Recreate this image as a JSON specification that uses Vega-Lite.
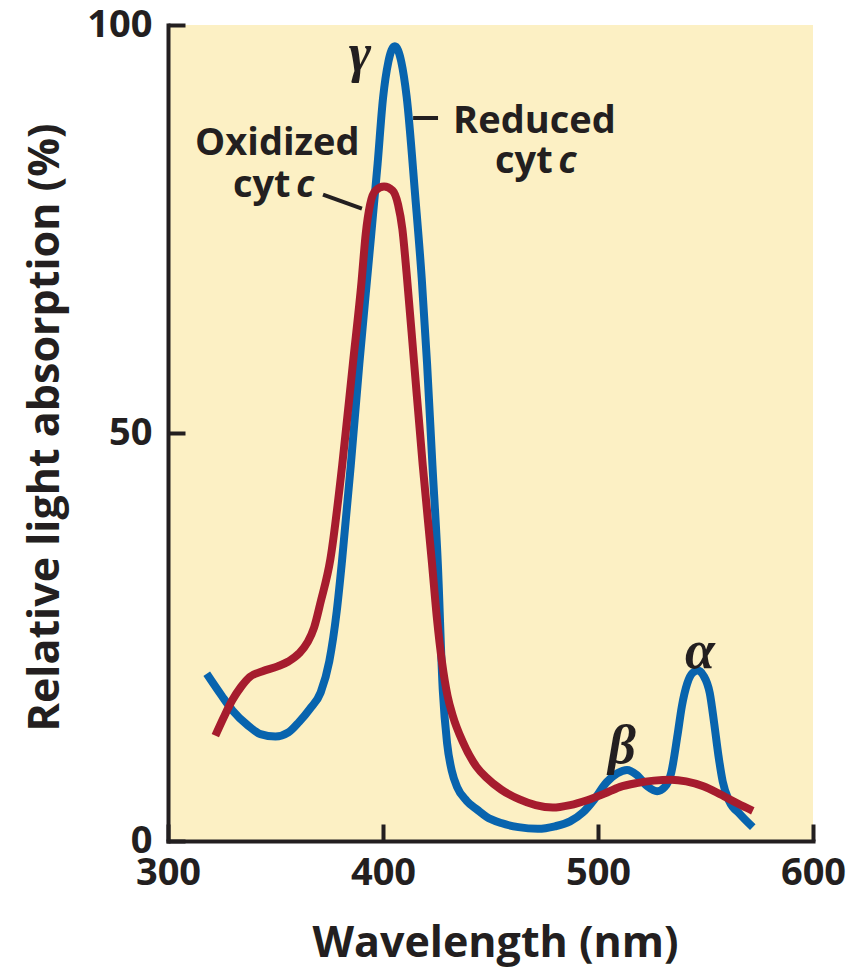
{
  "$schema": "https://vega.github.io/schema/vega-lite/v6.json",
  "autosize": {"type": "none"},
  "width": 645,
  "height": 816,
  "padding": {"left": 168, "top": 25, "right": 37, "bottom": 126},
  "background": "#ffffff",
  "config": {
    "view": {"fill": "#FCF0C4", "stroke": null},
    "font": "Open Sans",
    "axis": {
      "domainColor": "#231F20", "domainWidth": 4, "domainCap": "square",
      "tickColor": "#231F20", "tickWidth": 4, "tickSize": -17,
      "labelFont": "Open Sans", "labelFontWeight": "bold", "labelFontSize": 38, "labelColor": "#231F20",
      "labelFlush": false, "labelOverlap": false,
      "titleFont": "Open Sans", "titleFontWeight": "bold", "titleFontSize": 43, "titleColor": "#231F20",
      "grid": false
    }
  },
  "datasets": {
    "reduced": [
      {"wavelength": 318, "absorption": 20.5},
      {"wavelength": 325, "absorption": 17.8},
      {"wavelength": 330, "absorption": 16.0},
      {"wavelength": 337, "absorption": 14.2},
      {"wavelength": 343, "absorption": 13.1},
      {"wavelength": 350, "absorption": 12.8},
      {"wavelength": 356, "absorption": 13.3},
      {"wavelength": 361, "absorption": 14.6},
      {"wavelength": 366, "absorption": 16.2},
      {"wavelength": 371, "absorption": 18.2},
      {"wavelength": 375, "absorption": 22.0},
      {"wavelength": 378.5, "absorption": 28.2},
      {"wavelength": 381, "absorption": 34.5},
      {"wavelength": 385, "absorption": 46},
      {"wavelength": 389, "absorption": 58.5},
      {"wavelength": 393, "absorption": 70},
      {"wavelength": 397.5, "absorption": 83},
      {"wavelength": 400, "absorption": 91},
      {"wavelength": 402.5, "absorption": 95.5},
      {"wavelength": 405.5, "absorption": 97.4},
      {"wavelength": 408.5, "absorption": 95.5},
      {"wavelength": 411, "absorption": 91.2},
      {"wavelength": 415, "absorption": 79.0},
      {"wavelength": 418, "absorption": 69},
      {"wavelength": 420.5, "absorption": 58.5},
      {"wavelength": 423, "absorption": 46},
      {"wavelength": 425.5, "absorption": 34},
      {"wavelength": 427.8, "absorption": 18.5},
      {"wavelength": 429.8, "absorption": 12.0},
      {"wavelength": 432, "absorption": 8.6},
      {"wavelength": 434.5, "absorption": 6.6},
      {"wavelength": 439, "absorption": 4.9},
      {"wavelength": 444, "absorption": 3.8},
      {"wavelength": 448, "absorption": 3.0},
      {"wavelength": 455, "absorption": 2.2},
      {"wavelength": 463, "absorption": 1.7},
      {"wavelength": 472, "absorption": 1.5},
      {"wavelength": 480, "absorption": 1.8},
      {"wavelength": 487, "absorption": 2.4},
      {"wavelength": 493, "absorption": 3.5},
      {"wavelength": 498, "absorption": 5.0},
      {"wavelength": 504, "absorption": 7.2},
      {"wavelength": 509, "absorption": 8.3},
      {"wavelength": 513.5, "absorption": 8.7},
      {"wavelength": 518, "absorption": 8.1},
      {"wavelength": 523, "absorption": 6.7},
      {"wavelength": 527.5, "absorption": 6.1},
      {"wavelength": 531, "absorption": 6.6},
      {"wavelength": 534, "absorption": 8.3},
      {"wavelength": 537, "absorption": 13},
      {"wavelength": 539, "absorption": 16.5},
      {"wavelength": 541.5, "absorption": 19.3},
      {"wavelength": 544, "absorption": 20.6},
      {"wavelength": 546.5, "absorption": 20.9},
      {"wavelength": 549, "absorption": 20.3},
      {"wavelength": 552, "absorption": 18.1},
      {"wavelength": 554, "absorption": 14.5},
      {"wavelength": 556, "absorption": 10.5},
      {"wavelength": 558, "absorption": 7.3},
      {"wavelength": 561, "absorption": 4.9},
      {"wavelength": 566, "absorption": 3.3},
      {"wavelength": 572, "absorption": 1.7}
    ],
    "oxidized": [
      {"wavelength": 322, "absorption": 12.9},
      {"wavelength": 326, "absorption": 15.2},
      {"wavelength": 330, "absorption": 17.3},
      {"wavelength": 334, "absorption": 18.9},
      {"wavelength": 338, "absorption": 20.1},
      {"wavelength": 344, "absorption": 20.8},
      {"wavelength": 351, "absorption": 21.4},
      {"wavelength": 356, "absorption": 22.0},
      {"wavelength": 361, "absorption": 23.0},
      {"wavelength": 365, "absorption": 24.4},
      {"wavelength": 368, "absorption": 26.2},
      {"wavelength": 371, "absorption": 29.3},
      {"wavelength": 375.5, "absorption": 34.5},
      {"wavelength": 381, "absorption": 46},
      {"wavelength": 386, "absorption": 58.5},
      {"wavelength": 390, "absorption": 68.5},
      {"wavelength": 392, "absorption": 74.5},
      {"wavelength": 394, "absorption": 78},
      {"wavelength": 396.5, "absorption": 79.7},
      {"wavelength": 400.5, "absorption": 80.2},
      {"wavelength": 404.5, "absorption": 79.7},
      {"wavelength": 407, "absorption": 78},
      {"wavelength": 409, "absorption": 75},
      {"wavelength": 411, "absorption": 69.5},
      {"wavelength": 414.5, "absorption": 58.5},
      {"wavelength": 418.5, "absorption": 46},
      {"wavelength": 422.8, "absorption": 34},
      {"wavelength": 425, "absorption": 27.5},
      {"wavelength": 427.5, "absorption": 21.8},
      {"wavelength": 430, "absorption": 17.8},
      {"wavelength": 432.5, "absorption": 15.3},
      {"wavelength": 437, "absorption": 12.2},
      {"wavelength": 443.5, "absorption": 9.1},
      {"wavelength": 448, "absorption": 7.8},
      {"wavelength": 455, "absorption": 6.3},
      {"wavelength": 463.5, "absorption": 5.1},
      {"wavelength": 471, "absorption": 4.4},
      {"wavelength": 479, "absorption": 4.1},
      {"wavelength": 487, "absorption": 4.4},
      {"wavelength": 495, "absorption": 5.0},
      {"wavelength": 503, "absorption": 5.8},
      {"wavelength": 510, "absorption": 6.6},
      {"wavelength": 518, "absorption": 7.1},
      {"wavelength": 526, "absorption": 7.4},
      {"wavelength": 534, "absorption": 7.5},
      {"wavelength": 541, "absorption": 7.3},
      {"wavelength": 549, "absorption": 6.7},
      {"wavelength": 557, "absorption": 5.7},
      {"wavelength": 565, "absorption": 4.6},
      {"wavelength": 572, "absorption": 3.7}
    ],
    "labels": [
      {"text": "Reduced", "wavelength": 432.6, "absorption": 86.8},
      {"text": "cyt", "wavelength": 452.1, "absorption": 81.9},
      {"text": "Oxidized", "wavelength": 312.6, "absorption": 84.1},
      {"text": "cyt", "wavelength": 330.2, "absorption": 78.9}
    ],
    "italic": [
      {"text": "c", "wavelength": 481.5, "absorption": 81.9},
      {"text": "c", "wavelength": 359.5, "absorption": 78.9}
    ],
    "greek": [
      {"text": "γ", "wavelength": 389.3, "absorption": 96.3},
      {"text": "β", "wavelength": 511.2, "absorption": 11.5},
      {"text": "α", "wavelength": 547.4, "absorption": 23.2}
    ],
    "leaders": [
      {"w1": 372.1, "w2": 390.2, "a1": 79.2, "a2": 77.5},
      {"w1": 414.0, "w2": 425.6, "a1": 88.6, "a2": 88.6}
    ]
  },
  "layer": [
    {
      "data": {"name": "reduced"},
      "mark": {"type": "line", "color": "#0864AE", "strokeWidth": 8, "interpolate": "monotone", "strokeCap": "butt"},
      "encoding": {
        "x": {"field": "wavelength", "type": "quantitative",
              "scale": {"domain": [300, 600], "nice": false, "zero": false},
              "axis": {"values": [300, 400, 500, 600], "title": "Wavelength (nm)", "labelPadding": 30,
                       "titleX": 327, "titleY": 102, "titleAlign": "center", "titleBaseline": "middle"}},
        "y": {"field": "absorption", "type": "quantitative",
              "scale": {"domain": [0, 100], "nice": false},
              "axis": {"values": [0, 50, 100], "title": "Relative light absorption (%)", "labelPadding": 33,
                       "titleX": -123, "titleY": 402, "titleAlign": "center", "titleBaseline": "middle", "titleAngle": -90}}
      }
    },
    {
      "data": {"name": "oxidized"},
      "mark": {"type": "line", "color": "#A61C2E", "strokeWidth": 8, "interpolate": "monotone", "strokeCap": "butt"},
      "encoding": {
        "x": {"field": "wavelength", "type": "quantitative"},
        "y": {"field": "absorption", "type": "quantitative"}
      }
    },
    {
      "data": {"name": "leaders"},
      "mark": {"type": "rule", "color": "#231F20", "strokeWidth": 4},
      "encoding": {
        "x": {"field": "w1", "type": "quantitative"},
        "x2": {"field": "w2"},
        "y": {"field": "a1", "type": "quantitative"},
        "y2": {"field": "a2"}
      }
    },
    {
      "data": {"name": "labels"},
      "mark": {"type": "text", "font": "Open Sans", "fontWeight": "bold", "fontSize": 38, "align": "left", "baseline": "alphabetic", "color": "#231F20"},
      "encoding": {
        "x": {"field": "wavelength", "type": "quantitative"},
        "y": {"field": "absorption", "type": "quantitative"},
        "text": {"field": "text"}
      }
    },
    {
      "data": {"name": "italic"},
      "mark": {"type": "text", "font": "Open Sans", "fontWeight": "bold", "fontStyle": "italic", "fontSize": 38, "align": "left", "baseline": "alphabetic", "color": "#231F20"},
      "encoding": {
        "x": {"field": "wavelength", "type": "quantitative"},
        "y": {"field": "absorption", "type": "quantitative"},
        "text": {"field": "text"}
      }
    },
    {
      "data": {"name": "greek"},
      "mark": {"type": "text", "font": "Liberation Serif", "fontWeight": "bold", "fontStyle": "italic", "fontSize": 54, "align": "center", "baseline": "middle", "color": "#231F20"},
      "encoding": {
        "x": {"field": "wavelength", "type": "quantitative"},
        "y": {"field": "absorption", "type": "quantitative"},
        "text": {"field": "text"}
      }
    }
  ]
}
